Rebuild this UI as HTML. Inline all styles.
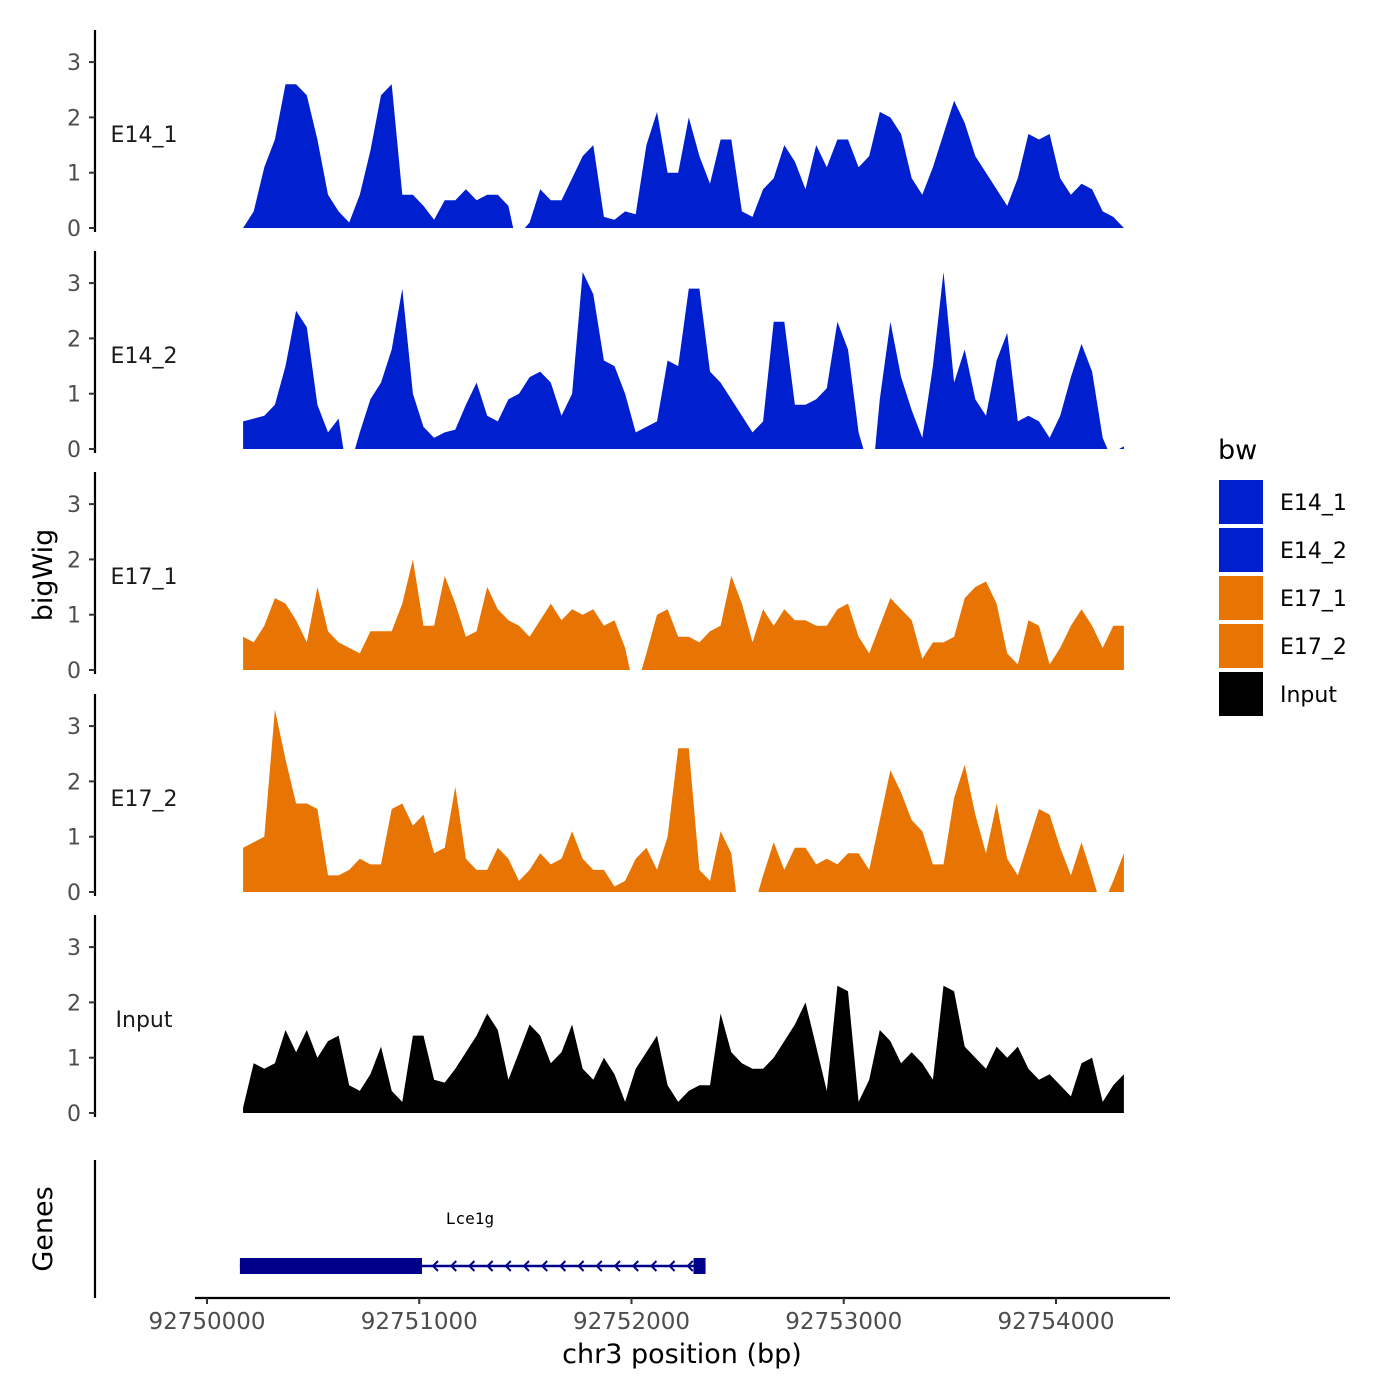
<!DOCTYPE html>
<html><head><meta charset="utf-8"><style>
body{margin:0;background:#fff;}
svg{display:block;font-family:"DejaVu Sans","Liberation Sans",sans-serif;}
</style></head><body>
<svg id="chart" width="1400" height="1400" viewBox="0 0 1400 1400" xmlns="http://www.w3.org/2000/svg"></svg>
<script>
const trackNames = ["E14_1","E14_2","E17_1","E17_2","Input"];
const trackColors = ["#0020CF","#0020CF","#E87503","#E87503","#000000"];
const binStart = 92750170;
const binStep = 50;
const N = NaN;
const e14_1 = [0,0.3,1.1,1.6,2.6,2.6,2.4,1.6,0.6,0.3,0.1,0.6,1.4,2.4,2.6,0.6,0.6,0.4,0.15,0.5,0.5,0.7,0.5,0.6,0.6,0.4,N,0.1,0.7,0.5,0.5,0.9,1.3,1.5,0.2,0.15,0.3,0.25,1.5,2.1,1.0,1.0,2.0,1.3,0.8,1.6,1.6,0.3,0.2,0.7,0.9,1.5,1.2,0.7,1.5,1.1,1.6,1.6,1.1,1.3,2.1,2.0,1.7,0.9,0.6,1.1,1.7,2.3,1.9,1.3,1.0,0.7,0.4,0.9,1.7,1.6,1.7,0.9,0.6,0.8,0.7,0.3,0.2,0];
const e14_2 = [0.5,0.55,0.6,0.8,1.5,2.5,2.2,0.8,0.3,0.55,N,0.3,0.9,1.2,1.8,2.9,1.0,0.4,0.2,0.3,0.35,0.8,1.2,0.6,0.5,0.9,1.0,1.3,1.4,1.2,0.6,1.0,3.2,2.8,1.6,1.5,1.0,0.3,0.4,0.5,1.6,1.5,2.9,2.9,1.4,1.2,0.9,0.6,0.3,0.5,2.3,2.3,0.8,0.8,0.9,1.1,2.3,1.8,0.3,N,0.9,2.3,1.3,0.7,0.2,1.5,3.2,1.2,1.8,0.9,0.6,1.6,2.1,0.5,0.6,0.5,0.2,0.6,1.3,1.9,1.4,0.2,N,0.05];
const e17_1 = [0.6,0.5,0.8,1.3,1.2,0.9,0.5,1.5,0.7,0.5,0.4,0.3,0.7,0.7,0.7,1.2,2.0,0.8,0.8,1.7,1.2,0.6,0.7,1.5,1.1,0.9,0.8,0.6,0.9,1.2,0.9,1.1,1.0,1.1,0.8,0.9,0.4,N,0.3,1.0,1.1,0.6,0.6,0.5,0.7,0.8,1.7,1.2,0.5,1.1,0.8,1.1,0.9,0.9,0.8,0.8,1.1,1.2,0.6,0.3,0.8,1.3,1.1,0.9,0.2,0.5,0.5,0.6,1.3,1.5,1.6,1.2,0.3,0.1,0.9,0.8,0.1,0.4,0.8,1.1,0.8,0.4,0.8,0.8];
const e17_2 = [0.8,0.9,1.0,3.3,2.4,1.6,1.6,1.5,0.3,0.3,0.4,0.6,0.5,0.5,1.5,1.6,1.2,1.4,0.7,0.8,1.9,0.6,0.4,0.4,0.8,0.6,0.2,0.4,0.7,0.5,0.6,1.1,0.6,0.4,0.4,0.1,0.2,0.6,0.8,0.4,1.0,2.6,2.6,0.4,0.2,1.1,0.7,N,N,0.3,0.9,0.4,0.8,0.8,0.5,0.6,0.5,0.7,0.7,0.4,1.3,2.2,1.8,1.3,1.1,0.5,0.5,1.7,2.3,1.4,0.7,1.6,0.6,0.3,0.9,1.5,1.4,0.8,0.3,0.9,0.3,N,0.2,0.7];
const input = [0.1,0.9,0.8,0.9,1.5,1.1,1.5,1.0,1.3,1.4,0.5,0.4,0.7,1.2,0.4,0.2,1.4,1.4,0.6,0.55,0.8,1.1,1.4,1.8,1.5,0.6,1.1,1.6,1.4,0.9,1.1,1.6,0.8,0.6,1.0,0.7,0.2,0.8,1.1,1.4,0.5,0.2,0.4,0.5,0.5,1.8,1.1,0.9,0.8,0.8,1.0,1.3,1.6,2.0,1.2,0.4,2.3,2.2,0.2,0.6,1.5,1.3,0.9,1.1,0.9,0.6,2.3,2.2,1.2,1.0,0.8,1.2,1.0,1.2,0.8,0.6,0.7,0.5,0.3,0.9,1.0,0.2,0.5,0.7];
const tracks = [e14_1,e14_2,e17_1,e17_2,input];
const yTicks = [0,1,2,3];
const xTicks = [92750000,92751000,92752000,92753000,92754000];
const geneName = "Lce1g";
const geneStart = 92750155, geneThickEnd = 92751013, geneEnd = 92752330;

const svg = document.getElementById('chart');
const NS = "http://www.w3.org/2000/svg";
function mk(tag, attrs, parent){const e=document.createElementNS(NS,tag);for(const k in attrs)e.setAttribute(k,attrs[k]);(parent||svg).appendChild(e);return e;}
function xScale(bp){return 207 + (bp-92750000)*0.21225;}
const panelZero = [228,449,670,892,1113];
const unit = 55.3;
function yScale(p,v){return panelZero[p]-v*unit;}

tracks.forEach((vals,p)=>{
  const g = mk('g',{});
  
  
  const ax = mk('line',{x1:95,x2:95,y1:panelZero[p]-198,y2:panelZero[p]+4,stroke:'#000','stroke-width':2.2},g);
  
  
  yTicks.forEach(t=>{
    const y=yScale(p,t);
    mk('line',{x1:89,x2:95,y1:y,y2:y,stroke:'#333','stroke-width':2},g);
    const tl=mk('text',{x:81,y:y+8,'text-anchor':'end','font-size':22,fill:'#4d4d4d'},g);
    tl.textContent=t;
    
    
  });
  const lab=mk('text',{x:144,y:panelZero[p]-86,'text-anchor':'middle','font-size':22,fill:'#1a1a1a'},g);
  lab.textContent=trackNames[p];
  
  
  const stepPx = binStep*0.21225;
  let seg=[];
  const flush=()=>{
    if(seg.length>1){
      let d='M'+seg[0][0]+','+panelZero[p];
      seg.forEach(s=>d+=' L'+s[0]+','+s[1]);
      d+=' L'+seg[seg.length-1][0]+','+panelZero[p]+' Z';
      const a=mk('path',{d:d,fill:trackColors[p]},g);
      
      
    }
    seg=[];
  };
  vals.forEach((v,i)=>{
    const x=xScale(binStart+i*binStep);
    if(isNaN(v)){
      if(seg.length) seg.push([(x-stepPx*0.55).toFixed(1),panelZero[p]]);
      flush();
      const nx = i+1<vals.length && !isNaN(vals[i+1]);
      if(nx) seg.push([(x+stepPx*0.55).toFixed(1),panelZero[p]]);
    } else seg.push([x.toFixed(1),yScale(p,v).toFixed(1)]);
  });
  flush();
});

const ga=mk('line',{x1:95,x2:95,y1:1160,y2:1298,stroke:'#000','stroke-width':2.2});


const gg=mk('g',{});


const gx0=xScale(geneStart), gx1=xScale(geneThickEnd), gx2=xScale(geneEnd);
mk('line',{x1:gx0,x2:gx2,y1:1266,y2:1266,stroke:'#00008B','stroke-width':2.5},gg);
mk('rect',{x:gx0,y:1258,width:gx1-gx0,height:16,fill:'#00008B'},gg);
mk('rect',{x:gx2-8,y:1258,width:12,height:16,fill:'#00008B'},gg);
for(let x=gx1+12;x<gx2-12;x+=18.2){
  mk('path',{d:`M${x+4},${1261} L${x-1},1266 L${x+4},1271`,fill:'none',stroke:'#00008B','stroke-width':2},gg);
}
const gl=mk('text',{x:470,y:1224,'text-anchor':'middle','font-size':16,'font-family':'"DejaVu Sans Mono","Liberation Mono",monospace',fill:'#000'},gg);
gl.textContent=geneName;



const xa=mk('line',{x1:195,x2:1170,y1:1298,y2:1298,stroke:'#000','stroke-width':2.2});


xTicks.forEach(t=>{
  const x=xScale(t);
  mk('line',{x1:x,x2:x,y1:1298,y2:1304,stroke:'#333','stroke-width':2});
  const tl=mk('text',{x:x,y:1329,'text-anchor':'middle','font-size':23,fill:'#4d4d4d'});
  tl.textContent=t;
  
  
});
const xt=mk('text',{x:682,y:1363,'text-anchor':'middle','font-size':27,fill:'#000'});
xt.textContent='chr3 position (bp)';


const yt=mk('text',{x:0,y:0,'text-anchor':'middle','font-size':27,fill:'#000',transform:'translate(52,575) rotate(-90)'});
yt.textContent='bigWig';


const gt=mk('text',{x:0,y:0,'text-anchor':'middle','font-size':27,fill:'#000',transform:'translate(52,1229) rotate(-90)'});
gt.textContent='Genes';



const lg=mk('g',{});


const lt=mk('text',{x:1218,y:459,'font-size':27,fill:'#000'},lg);
lt.textContent='bw';


trackNames.forEach((n,i)=>{
  const y=480+i*48;
  const r=mk('rect',{x:1219,y:y,width:44,height:44,fill:trackColors[i]},lg);
  
  
  const t=mk('text',{x:1280,y:y+30,'font-size':22,fill:'#000'},lg);
  t.textContent=n;
  
  
});
</script>
</body></html>
